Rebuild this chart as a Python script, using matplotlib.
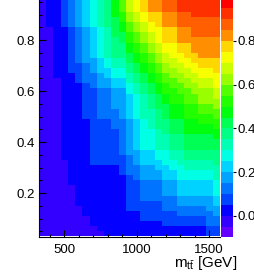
import colorsys
import matplotlib
matplotlib.use('Agg')
import matplotlib.pyplot as plt
import numpy as np
from matplotlib.colors import ListedColormap, BoundaryNorm
from matplotlib.ticker import MultipleLocator, FormatStrFormatter

plt.rcParams['font.family'] = ['Liberation Sans', 'DejaVu Sans']
plt.rcParams['mathtext.fontset'] = 'custom'
plt.rcParams['mathtext.rm'] = 'Liberation Sans'
plt.rcParams['mathtext.it'] = 'Liberation Sans:italic'

# binning of the histogram (m_tt in GeV, y in fraction)
x_edges = np.linspace(325, 1575, 26)
y_edges = np.linspace(0.03, 0.97, 48)

# colour band edges (z axis)
z_edges = np.linspace(-0.1, 1.0, 23)

# band index per cell, one string per y row, top row first
# 0-9 then a=10 ... l=21
rows_top_down = [
    "1223456789bdfghiijjkkkkkk",
    "1223456789bdfghiijjkkkkkk",
    "1223456789bdfghiijjkkkkkk",
    "1223456789bcefghhiijjkkkk",
    "1223456789acefghhiijjjjjj",
    "1223456789abdefghiijjjjjj",
    "1122345678abdefgghhiijjjj",
    "1122345678aacdefghhiijjjj",
    "11223456789acdefghhiiiiii",
    "112234567899bcdefgghhiiii",
    "112234567899bcdefgghhiiii",
    "112234567899abcdefgghhiii",
    "112234556788abcdeffgghhhh",
    "1122334567889abcdeffgghhh",
    "1122334566779abcdeeffgggh",
    "11222344567789abcdeeffggg",
    "11122344556689abcddeefffg",
    "111222345566789abcddeeffg",
    "111222334455789abccddeeef",
    "1112223344556789abccddeef",
    "1112223344556789abccddeee",
    "1112223344556789aabbccdde",
    "11122233444567889abbccddd",
    "11122233444567889abbccccd",
    "111222233344567899aabbccc",
    "111222233344567899aabbbbc",
    "111222233334567789aabbbbb",
    "11122223333456778899aaaab",
    "11122223333456778899aaaaa",
    "11122223333456778899aaaaa",
    "1112222333345566778899999",
    "1112222333334566778899999",
    "1111222333334566677888889",
    "1111222222234455667788888",
    "1111222222234455566777778",
    "1111222222223455566777778",
    "1111222222223344455666667",
    "1111122222223344455666667",
    "1111122222223344455666667",
    "1111122222223344444555556",
    "1111122222223333344555556",
    "1111112222223333344444455",
    "1111112222222233333444445",
    "1111111222222233333333344",
    "1111111222222222233333344",
    "1111111122222222222222233",
    "1111111112222222222222233",
]

z_ticks = [0.0, 0.2, 0.4, 0.6, 0.8]

levels = np.array([[int(ch, 36) for ch in r] for r in rows_top_down[::-1]])
z = z_edges[levels] + 0.025

# ROOT "pretty" palette (violet -> red, HLS)
n_band = len(z_edges) - 1
cols = []
for j in range(n_band):
    idx = int((j + 0.99) * 50 / n_band)
    hue = 280 - (idx + 1) * 5.6
    cols.append(colorsys.hls_to_rgb(max(hue, 0) / 360, 0.5, 1.0))
cmap = ListedColormap(cols)
norm = BoundaryNorm(z_edges, cmap.N)

W, H = 254, 273
fig = plt.figure(figsize=(W / 100, H / 100), dpi=100)
ax = fig.add_axes([39 / W, 36 / H, 181 / W, 237 / H])
cax = fig.add_axes([221 / W, 36 / H, 12 / W, 237 / H])

mesh = ax.pcolormesh(x_edges, y_edges, z, cmap=cmap, norm=norm)
ax.set_xlim(325, 1575)
ax.set_ylim(0.0275, 0.957)
ax.xaxis.set_major_locator(MultipleLocator(500))
ax.xaxis.set_minor_locator(MultipleLocator(100))
ax.yaxis.set_major_locator(MultipleLocator(0.2))
ax.yaxis.set_minor_locator(MultipleLocator(0.05))
ax.yaxis.set_major_formatter(FormatStrFormatter('%.1f'))
ax.tick_params(which='both', direction='in', top=False, right=False,
               labelsize=9.5, width=0.8)
ax.tick_params(which='major', length=5)
ax.tick_params(which='minor', length=2.5)
ax.tick_params(axis='x', pad=5)
ax.tick_params(axis='y', pad=3)
ax.spines['top'].set_visible(False)
ax.spines['right'].set_visible(False)
for s in ('left', 'bottom'):
    ax.spines[s].set_linewidth(0.8)
ax.set_axisbelow(False)

cb = fig.colorbar(mesh, cax=cax, ticks=z_ticks)
cb.outline.set_visible(False)
cax.set_ylim(-0.096, 0.987)
cax.yaxis.set_major_formatter(FormatStrFormatter('%.1f'))
cax.tick_params(direction='out', length=2.5, width=0.8, pad=1, labelsize=9.5)
cax.minorticks_off()

fig.text(237 / W, 6 / H, r'm$_{\mathrm{t\bar{t}}}$ [GeV]', ha='right',
         va='baseline', fontsize=11)

fig.savefig('out.png', dpi=100)
